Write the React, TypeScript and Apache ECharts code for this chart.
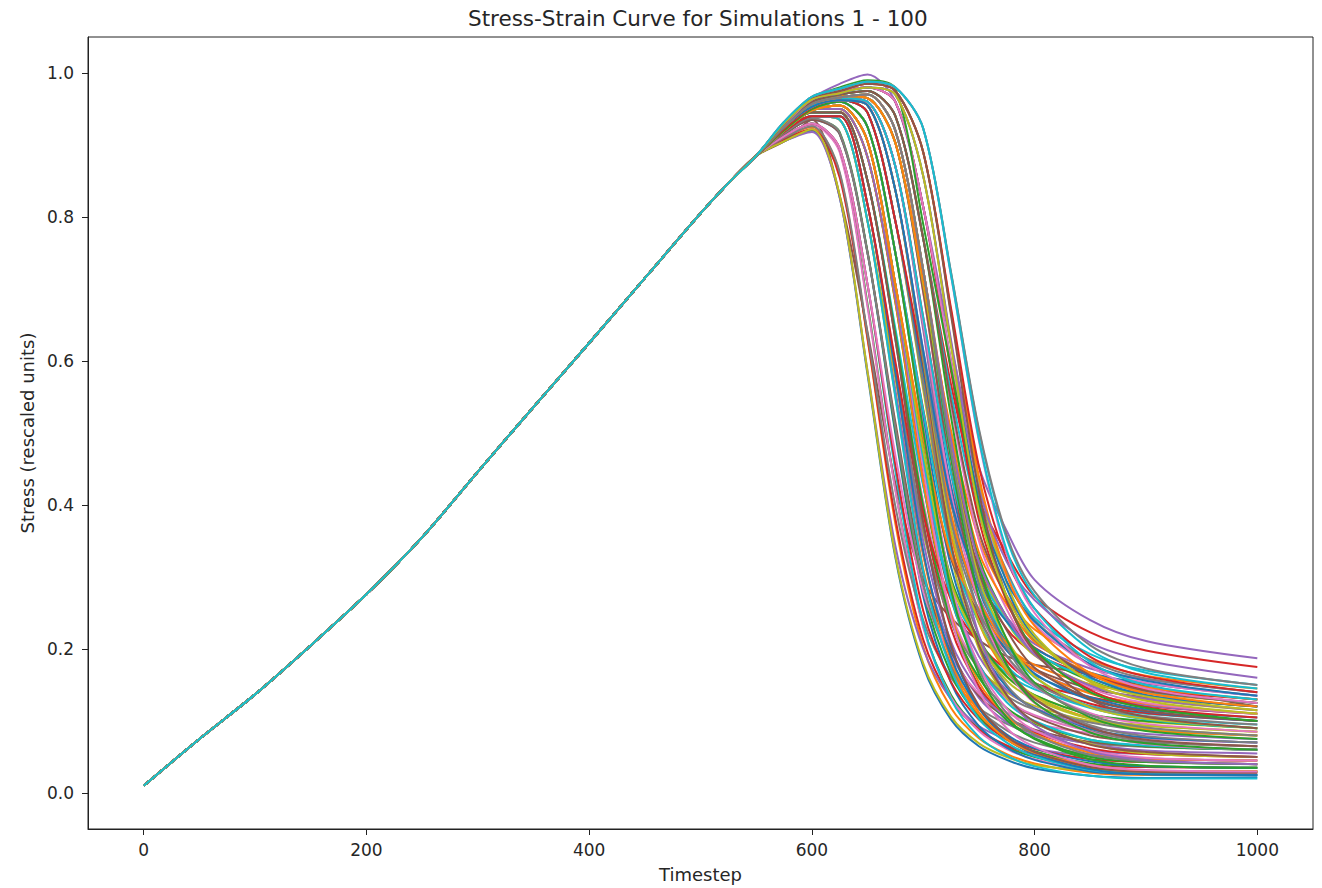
import React, { useEffect, useRef } from "react";
import * as echarts from "echarts";

// Shared loading branch (all simulations overlap here)
const RISE_T = [0, 50, 100, 150, 200, 250, 300, 350, 400, 450, 500, 525, 550];
const RISE_V = [0.01, 0.075, 0.137, 0.205, 0.276, 0.355, 0.446, 0.536, 0.625, 0.715, 0.805, 0.847, 0.885];

// Per-simulation values after the shared branch
const TAIL_T = [575, 600, 625, 650, 675, 700, 725, 750, 775, 800, 850, 900, 1000];

const CURVES: number[][] = [
  [0.905, 0.92, 0.827, 0.581, 0.327, 0.176, 0.102, 0.065, 0.046, 0.034, 0.024, 0.021, 0.022],
  [0.91, 0.925, 0.86, 0.63, 0.374, 0.203, 0.118, 0.076, 0.054, 0.041, 0.028, 0.025, 0.025],
  [0.912, 0.93, 0.893, 0.679, 0.422, 0.232, 0.136, 0.089, 0.064, 0.05, 0.034, 0.03, 0.03],
  [0.908, 0.922, 0.855, 0.632, 0.381, 0.213, 0.13, 0.088, 0.066, 0.053, 0.039, 0.036, 0.035],
  [0.905, 0.918, 0.827, 0.586, 0.343, 0.2, 0.13, 0.093, 0.074, 0.062, 0.051, 0.047, 0.045],
  [0.905, 0.935, 0.83, 0.64, 0.43, 0.296, 0.243, 0.212, 0.19, 0.178, 0.165, 0.148, 0.12],
  [0.912, 0.928, 0.89, 0.675, 0.42, 0.23, 0.133, 0.086, 0.061, 0.047, 0.031, 0.028, 0.028],
  [0.91, 0.926, 0.862, 0.637, 0.398, 0.24, 0.16, 0.118, 0.096, 0.083, 0.069, 0.064, 0.06],
  [0.905, 0.922, 0.83, 0.585, 0.33, 0.18, 0.106, 0.069, 0.05, 0.039, 0.031, 0.029, 0.03],
  [0.912, 0.93, 0.895, 0.706, 0.447, 0.235, 0.13, 0.078, 0.052, 0.037, 0.024, 0.02, 0.02],
  [0.915, 0.935, 0.915, 0.75, 0.499, 0.273, 0.153, 0.093, 0.063, 0.046, 0.03, 0.026, 0.025],
  [0.918, 0.94, 0.935, 0.794, 0.551, 0.312, 0.176, 0.108, 0.074, 0.055, 0.036, 0.031, 0.03],
  [0.915, 0.936, 0.918, 0.752, 0.504, 0.282, 0.165, 0.105, 0.075, 0.058, 0.041, 0.037, 0.035],
  [0.912, 0.93, 0.895, 0.706, 0.456, 0.253, 0.154, 0.102, 0.076, 0.061, 0.047, 0.043, 0.04],
  [0.918, 0.94, 0.935, 0.794, 0.56, 0.33, 0.2, 0.132, 0.098, 0.079, 0.059, 0.054, 0.05],
  [0.915, 0.935, 0.915, 0.75, 0.515, 0.305, 0.195, 0.135, 0.105, 0.088, 0.071, 0.065, 0.06],
  [0.912, 0.93, 0.895, 0.706, 0.469, 0.28, 0.19, 0.138, 0.112, 0.097, 0.083, 0.076, 0.07],
  [0.916, 0.937, 0.917, 0.75, 0.508, 0.291, 0.177, 0.117, 0.087, 0.07, 0.053, 0.048, 0.045],
  [0.918, 0.94, 0.935, 0.794, 0.576, 0.361, 0.242, 0.174, 0.14, 0.121, 0.1, 0.093, 0.085],
  [0.918, 0.94, 0.935, 0.794, 0.549, 0.308, 0.171, 0.103, 0.07, 0.051, 0.032, 0.027, 0.025],
  [0.92, 0.945, 0.945, 0.85, 0.63, 0.374, 0.203, 0.118, 0.076, 0.054, 0.033, 0.026, 0.025],
  [0.918, 0.94, 0.94, 0.817, 0.583, 0.332, 0.184, 0.112, 0.075, 0.056, 0.039, 0.031, 0.03],
  [0.922, 0.95, 0.95, 0.883, 0.681, 0.429, 0.243, 0.148, 0.101, 0.076, 0.05, 0.043, 0.04],
  [0.92, 0.946, 0.946, 0.85, 0.635, 0.391, 0.229, 0.148, 0.106, 0.084, 0.062, 0.054, 0.05],
  [0.918, 0.94, 0.94, 0.817, 0.588, 0.35, 0.21, 0.142, 0.105, 0.086, 0.068, 0.059, 0.055],
  [0.922, 0.95, 0.95, 0.883, 0.686, 0.447, 0.269, 0.178, 0.131, 0.106, 0.08, 0.071, 0.065],
  [0.92, 0.945, 0.945, 0.85, 0.639, 0.405, 0.25, 0.172, 0.13, 0.108, 0.086, 0.076, 0.07],
  [0.918, 0.94, 0.94, 0.817, 0.593, 0.367, 0.237, 0.172, 0.135, 0.116, 0.098, 0.087, 0.08],
  [0.922, 0.95, 0.95, 0.883, 0.691, 0.464, 0.295, 0.208, 0.161, 0.136, 0.109, 0.099, 0.09],
  [0.92, 0.945, 0.945, 0.85, 0.645, 0.426, 0.282, 0.208, 0.166, 0.144, 0.121, 0.11, 0.1],
  [0.918, 0.94, 0.94, 0.817, 0.584, 0.336, 0.189, 0.118, 0.081, 0.062, 0.044, 0.037, 0.035],
  [0.922, 0.95, 0.95, 0.883, 0.682, 0.433, 0.248, 0.154, 0.107, 0.082, 0.056, 0.048, 0.045],
  [0.92, 0.945, 0.945, 0.85, 0.637, 0.398, 0.24, 0.16, 0.118, 0.096, 0.074, 0.065, 0.06],
  [0.918, 0.94, 0.94, 0.817, 0.599, 0.388, 0.268, 0.208, 0.171, 0.152, 0.133, 0.121, 0.11],
  [0.922, 0.95, 0.95, 0.883, 0.688, 0.454, 0.279, 0.19, 0.143, 0.118, 0.092, 0.082, 0.075],
  [0.92, 0.945, 0.945, 0.85, 0.63, 0.376, 0.206, 0.121, 0.079, 0.057, 0.036, 0.029, 0.028],
  [0.92, 0.948, 0.955, 0.905, 0.706, 0.451, 0.244, 0.142, 0.09, 0.064, 0.039, 0.032, 0.03],
  [0.92, 0.95, 0.96, 0.925, 0.75, 0.506, 0.287, 0.171, 0.111, 0.081, 0.053, 0.044, 0.04],
  [0.922, 0.952, 0.963, 0.945, 0.794, 0.56, 0.33, 0.2, 0.132, 0.098, 0.068, 0.055, 0.05],
  [0.92, 0.948, 0.955, 0.905, 0.706, 0.465, 0.271, 0.178, 0.126, 0.1, 0.074, 0.066, 0.06],
  [0.92, 0.95, 0.96, 0.925, 0.75, 0.519, 0.314, 0.207, 0.147, 0.117, 0.089, 0.077, 0.07],
  [0.922, 0.952, 0.963, 0.945, 0.794, 0.574, 0.357, 0.236, 0.168, 0.134, 0.104, 0.088, 0.08],
  [0.92, 0.948, 0.955, 0.905, 0.706, 0.478, 0.298, 0.214, 0.162, 0.136, 0.109, 0.1, 0.09],
  [0.92, 0.95, 0.96, 0.925, 0.75, 0.533, 0.341, 0.243, 0.183, 0.153, 0.124, 0.111, 0.1],
  [0.922, 0.952, 0.963, 0.945, 0.794, 0.587, 0.384, 0.272, 0.204, 0.17, 0.139, 0.122, 0.11],
  [0.92, 0.948, 0.955, 0.905, 0.706, 0.492, 0.325, 0.25, 0.198, 0.172, 0.145, 0.133, 0.12],
  [0.92, 0.95, 0.96, 0.925, 0.75, 0.508, 0.291, 0.177, 0.117, 0.087, 0.059, 0.049, 0.045],
  [0.922, 0.952, 0.963, 0.945, 0.794, 0.567, 0.343, 0.218, 0.15, 0.116, 0.086, 0.072, 0.065],
  [0.92, 0.948, 0.955, 0.905, 0.706, 0.476, 0.293, 0.208, 0.156, 0.13, 0.103, 0.094, 0.085],
  [0.92, 0.95, 0.96, 0.925, 0.75, 0.531, 0.336, 0.237, 0.177, 0.147, 0.118, 0.105, 0.095],
  [0.922, 0.952, 0.963, 0.945, 0.794, 0.585, 0.379, 0.266, 0.198, 0.164, 0.133, 0.116, 0.105],
  [0.92, 0.948, 0.955, 0.905, 0.706, 0.494, 0.329, 0.256, 0.204, 0.178, 0.151, 0.139, 0.125],
  [0.92, 0.95, 0.96, 0.925, 0.75, 0.504, 0.282, 0.165, 0.105, 0.075, 0.047, 0.038, 0.035],
  [0.922, 0.952, 0.963, 0.945, 0.794, 0.596, 0.402, 0.296, 0.228, 0.194, 0.163, 0.144, 0.13],
  [0.925, 0.955, 0.965, 0.96, 0.87, 0.643, 0.384, 0.219, 0.136, 0.094, 0.058, 0.046, 0.04],
  [0.925, 0.953, 0.962, 0.955, 0.837, 0.597, 0.346, 0.205, 0.136, 0.099, 0.067, 0.057, 0.05],
  [0.927, 0.957, 0.968, 0.965, 0.903, 0.695, 0.443, 0.264, 0.172, 0.125, 0.085, 0.068, 0.06],
  [0.925, 0.955, 0.965, 0.96, 0.87, 0.649, 0.405, 0.25, 0.172, 0.13, 0.094, 0.079, 0.07],
  [0.925, 0.953, 0.962, 0.955, 0.837, 0.603, 0.367, 0.237, 0.172, 0.135, 0.103, 0.09, 0.08],
  [0.927, 0.957, 0.968, 0.965, 0.903, 0.701, 0.464, 0.295, 0.208, 0.161, 0.12, 0.102, 0.09],
  [0.925, 0.955, 0.965, 0.96, 0.87, 0.655, 0.426, 0.282, 0.208, 0.166, 0.129, 0.113, 0.1],
  [0.925, 0.953, 0.962, 0.955, 0.837, 0.609, 0.388, 0.268, 0.208, 0.171, 0.138, 0.124, 0.11],
  [0.927, 0.957, 0.968, 0.965, 0.903, 0.707, 0.485, 0.327, 0.244, 0.197, 0.156, 0.135, 0.12],
  [0.925, 0.955, 0.965, 0.96, 0.87, 0.661, 0.447, 0.313, 0.244, 0.202, 0.165, 0.146, 0.13],
  [0.925, 0.953, 0.962, 0.955, 0.837, 0.615, 0.409, 0.3, 0.244, 0.207, 0.173, 0.158, 0.14],
  [0.927, 0.957, 0.968, 0.965, 0.903, 0.696, 0.447, 0.269, 0.178, 0.131, 0.091, 0.074, 0.065],
  [0.925, 0.955, 0.965, 0.96, 0.87, 0.652, 0.416, 0.266, 0.19, 0.148, 0.111, 0.096, 0.085],
  [0.925, 0.953, 0.962, 0.955, 0.837, 0.606, 0.378, 0.252, 0.19, 0.153, 0.12, 0.107, 0.095],
  [0.927, 0.957, 0.968, 0.965, 0.903, 0.706, 0.482, 0.321, 0.238, 0.191, 0.15, 0.13, 0.115],
  [0.925, 0.955, 0.965, 0.96, 0.87, 0.66, 0.444, 0.308, 0.238, 0.196, 0.159, 0.141, 0.125],
  [0.925, 0.953, 0.962, 0.955, 0.837, 0.614, 0.406, 0.294, 0.238, 0.201, 0.167, 0.152, 0.135],
  [0.927, 0.957, 0.968, 0.965, 0.903, 0.712, 0.503, 0.353, 0.274, 0.227, 0.185, 0.163, 0.145],
  [0.925, 0.957, 0.966, 0.97, 0.92, 0.726, 0.465, 0.271, 0.178, 0.126, 0.084, 0.069, 0.06],
  [0.925, 0.96, 0.97, 0.975, 0.94, 0.77, 0.567, 0.408, 0.333, 0.273, 0.223, 0.198, 0.175],
  [0.928, 0.965, 0.985, 0.998, 0.96, 0.814, 0.622, 0.453, 0.364, 0.296, 0.24, 0.211, 0.187],
  [0.925, 0.957, 0.966, 0.97, 0.92, 0.726, 0.483, 0.307, 0.226, 0.174, 0.131, 0.114, 0.1],
  [0.925, 0.96, 0.97, 0.975, 0.94, 0.77, 0.537, 0.35, 0.255, 0.195, 0.146, 0.125, 0.11],
  [0.928, 0.963, 0.975, 0.98, 0.96, 0.814, 0.601, 0.411, 0.308, 0.24, 0.184, 0.159, 0.14],
  [0.925, 0.957, 0.966, 0.97, 0.92, 0.726, 0.478, 0.298, 0.214, 0.162, 0.119, 0.103, 0.09],
  [0.925, 0.96, 0.97, 0.975, 0.94, 0.77, 0.555, 0.386, 0.303, 0.243, 0.193, 0.17, 0.15],
  [0.928, 0.963, 0.975, 0.98, 0.96, 0.814, 0.592, 0.393, 0.284, 0.216, 0.161, 0.136, 0.12],
  [0.925, 0.957, 0.966, 0.97, 0.92, 0.726, 0.496, 0.334, 0.262, 0.21, 0.167, 0.147, 0.13],
  [0.925, 0.96, 0.97, 0.975, 0.94, 0.77, 0.522, 0.318, 0.213, 0.153, 0.105, 0.086, 0.075],
  [0.928, 0.963, 0.975, 0.98, 0.96, 0.814, 0.585, 0.379, 0.266, 0.198, 0.143, 0.119, 0.105],
  [0.925, 0.957, 0.966, 0.97, 0.92, 0.726, 0.49, 0.32, 0.244, 0.192, 0.149, 0.131, 0.115],
  [0.925, 0.96, 0.97, 0.975, 0.94, 0.77, 0.544, 0.363, 0.273, 0.213, 0.164, 0.142, 0.125],
  [0.928, 0.963, 0.975, 0.98, 0.96, 0.814, 0.599, 0.406, 0.302, 0.234, 0.178, 0.153, 0.135],
  [0.925, 0.957, 0.966, 0.97, 0.92, 0.726, 0.474, 0.289, 0.202, 0.15, 0.108, 0.091, 0.08],
  [0.93, 0.965, 0.975, 0.985, 0.975, 0.89, 0.667, 0.433, 0.292, 0.22, 0.154, 0.128, 0.11],
  [0.932, 0.967, 0.978, 0.988, 0.98, 0.923, 0.722, 0.503, 0.353, 0.274, 0.199, 0.167, 0.145],
  [0.93, 0.963, 0.972, 0.98, 0.97, 0.857, 0.624, 0.406, 0.294, 0.238, 0.179, 0.156, 0.135],
  [0.93, 0.965, 0.975, 0.985, 0.975, 0.89, 0.669, 0.44, 0.303, 0.232, 0.166, 0.139, 0.12],
  [0.93, 0.965, 0.98, 0.99, 0.978, 0.79, 0.59, 0.4, 0.27, 0.2, 0.14, 0.118, 0.1],
  [0.93, 0.965, 0.975, 0.985, 0.975, 0.89, 0.673, 0.454, 0.324, 0.256, 0.189, 0.162, 0.14],
  [0.93, 0.963, 0.972, 0.98, 0.97, 0.857, 0.629, 0.423, 0.321, 0.268, 0.209, 0.184, 0.16],
  [0.93, 0.965, 0.975, 0.985, 0.975, 0.89, 0.663, 0.419, 0.271, 0.196, 0.13, 0.106, 0.09],
  [0.932, 0.967, 0.978, 0.988, 0.98, 0.923, 0.718, 0.489, 0.332, 0.25, 0.176, 0.145, 0.125],
  [0.932, 0.967, 0.978, 0.988, 0.98, 0.923, 0.723, 0.506, 0.358, 0.28, 0.205, 0.173, 0.15],
  [0.93, 0.963, 0.972, 0.98, 0.97, 0.857, 0.62, 0.392, 0.273, 0.214, 0.156, 0.134, 0.115],
  [0.932, 0.967, 0.978, 0.988, 0.98, 0.923, 0.719, 0.492, 0.337, 0.256, 0.182, 0.15, 0.13],
];

const X_TICKS = [0, 200, 400, 600, 800, 1000];
const Y_TICKS = [0, 0.2, 0.4, 0.6, 0.8, 1.0];

const PALETTE = [
  "#1f77b4", "#ff7f0e", "#2ca02c", "#d62728", "#9467bd",
  "#8c564b", "#e377c2", "#7f7f7f", "#bcbd22", "#17becf",
];

const TITLE = "Stress-Strain Curve for Simulations 1 - 100";
const FONT = "DejaVu Sans";
const TEXT_COLOR = "#262626";

export default function App() {
  const ref = useRef<HTMLDivElement>(null);

  useEffect(() => {
    if (!ref.current) return;
    const chart = echarts.init(ref.current, undefined, { renderer: "svg" });

    const series = CURVES.map((row, i) => ({
      type: "line",
      name: `Simulation ${i + 1}`,
      data: RISE_T.map((t, k) => [t, RISE_V[k]]).concat(
        TAIL_T.map((t, k) => [t, row[k]])
      ),
      showSymbol: false,
      symbol: "none",
      smooth: 0.3,
      silent: true,
      lineStyle: { width: 2, color: PALETTE[i % 10] },
      itemStyle: { color: PALETTE[i % 10] },
      z: 2,
    }));

    chart.setOption({
      animation: false,
      backgroundColor: "#ffffff",
      title: {
        text: TITLE,
        left: 463,
        top: 2,
        textStyle: {
          fontFamily: FONT,
          fontSize: 21.5,
          fontWeight: "normal",
          color: TEXT_COLOR,
        },
      },
      grid: {
        left: 88,
        top: 37,
        width: 1225,
        height: 794,
        show: true,
        borderColor: "#222222",
        borderWidth: 1,
        backgroundColor: "transparent",
        containLabel: false,
      },
      xAxis: {
        type: "value",
        min: -50,
        max: 1050,
        name: "Timestep",
        nameLocation: "middle",
        nameGap: 36,
        nameTextStyle: { fontFamily: FONT, fontSize: 18, color: TEXT_COLOR },
        splitLine: { show: false },
        axisLine: { show: true, onZero: false, lineStyle: { color: "#222222", width: 1 } },
        axisTick: {
          show: true,
          length: 6,
          customValues: X_TICKS,
          lineStyle: { color: "#222222", width: 1 },
        },
        axisLabel: {
          show: true,
          customValues: X_TICKS,
          margin: 12,
          fontFamily: FONT,
          fontSize: 17,
          color: TEXT_COLOR,
          formatter: (v: number) => String(Math.round(v)),
        },
      },
      yAxis: {
        type: "value",
        min: -0.05,
        max: 1.05,
        name: "Stress (rescaled units)",
        nameLocation: "middle",
        nameRotate: 90,
        nameGap: 52,
        nameTextStyle: { fontFamily: FONT, fontSize: 18, color: TEXT_COLOR },
        splitLine: { show: false },
        axisLine: { show: true, onZero: false, lineStyle: { color: "#222222", width: 1 } },
        axisTick: {
          show: true,
          length: 6,
          customValues: Y_TICKS,
          lineStyle: { color: "#222222", width: 1 },
        },
        axisLabel: {
          show: true,
          customValues: Y_TICKS,
          margin: 14,
          fontFamily: FONT,
          fontSize: 17,
          color: TEXT_COLOR,
          formatter: (v: number) => v.toFixed(1),
        },
      },
      series,
    });

    return () => {
      chart.dispose();
    };
  }, []);

  return (
    <div
      ref={ref}
      style={{ position: "fixed", left: 0, top: 0, width: 1322, height: 888, background: "#fff" }}
    />
  );
}
